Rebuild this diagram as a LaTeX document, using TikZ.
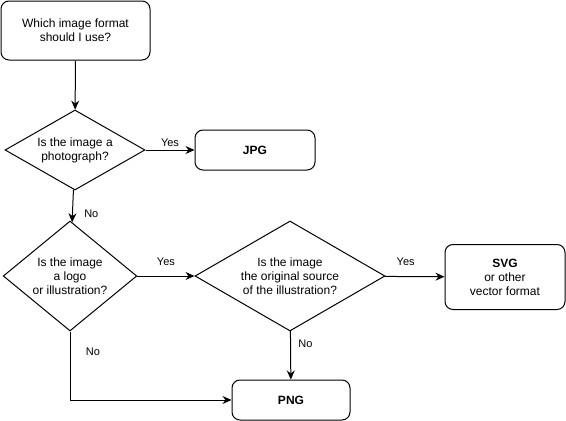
\documentclass[tikz,border=0pt]{standalone}
\usepackage{fontspec}
\setmainfont{Liberation Sans}
\usetikzlibrary{arrows.meta,shapes.geometric}
\begin{document}
\begin{tikzpicture}[x=1pt,y=-1pt,
  every node/.style={font=\fontsize{12}{14}\selectfont, align=center},
  box/.style={draw, rounded corners=8pt, line width=1pt, inner sep=0pt},
  dia/.style={draw, diamond, line width=1pt, inner sep=0pt, aspect=1.6},
  conn/.style={line width=1pt, -{Stealth[length=9pt,width=8pt]}},
  lbl/.style={font=\fontsize{11}{13}\selectfont}]
\useasboundingbox (0,0) rectangle (566,421);
\node[box, minimum width=149pt, minimum height=59pt] (start) at (75.5,30.5) {Which image format\\should I use?};
\node[dia, minimum width=140pt, minimum height=80pt] (d1) at (75,150) {Is the image a\\photograph?};
\node[box, minimum width=120pt, minimum height=40pt] (jpg) at (255,150) {\textbf{JPG}};
\node[dia, minimum width=130pt, minimum height=110pt] (d2) at (70,276) {Is the image\\a logo\\or illustration?};
\node[dia, minimum width=190pt, minimum height=110pt] (d3) at (290,276) {Is the image\\the original source\\of the illustration?};
\node[box, minimum width=120pt, minimum height=65pt] (svg) at (505,277) {\textbf{SVG}\\or other\\vector format};
\node[box, minimum width=118pt, minimum height=40pt] (png) at (291,400) {\textbf{PNG}};
\draw[conn] (start) -- (d1);
\draw[conn] (d1) -- node[lbl, above, pos=0.5] {Yes} (jpg);
\draw[conn] (d1) -- node[lbl, right, pos=0.75, xshift=8pt] {No} (d2);
\draw[conn] (d2) -- node[lbl, above, pos=0.5, yshift=7pt] {Yes} (d3);
\draw[conn] (d3) -- node[lbl, above, pos=0.35, yshift=7pt] {Yes} (svg);
\draw[conn] (d3) -- node[lbl, right, pos=0.25, xshift=4pt] {No} (png);
\coordinate (corner) at (d2.south |- png.west);
\draw[conn] (d2.south) -- node[lbl, right, pos=0.3, xshift=12pt] {No} (corner) -- (png.west);
\end{tikzpicture}
\end{document}
